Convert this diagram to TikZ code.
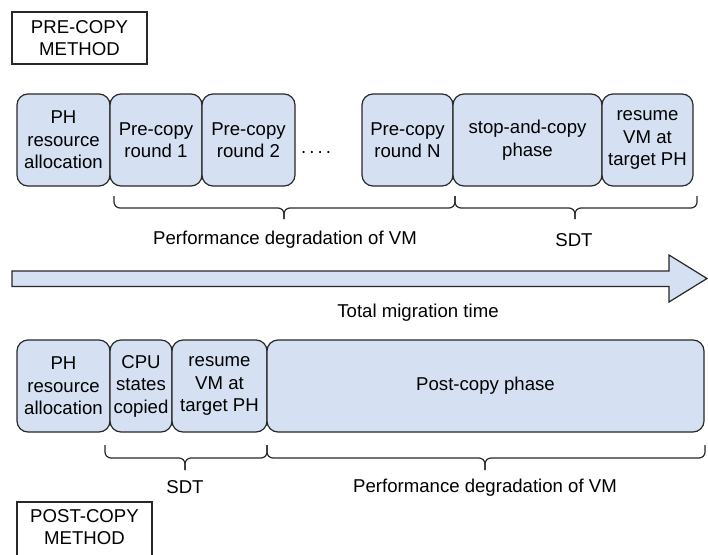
\documentclass[tikz,border=0pt]{standalone}
\usepackage{fontspec}
\setmainfont{Liberation Sans}
\definecolor{boxfill}{RGB}{213,225,243}
\definecolor{edge}{RGB}{40,40,40}
\tikzset{
  phase/.style={draw=edge, fill=boxfill, line width=1.2pt, rounded corners=11pt,
    align=center, inner sep=0pt, minimum height=92pt},
  lbl/.style={align=center, inner sep=0pt},
  bracepath/.style={draw=edge, line width=1.2pt, rounded corners=6pt},
  titlebox/.style={draw=edge, line width=1.2pt}
}
\begin{document}
\begin{tikzpicture}[x=1pt,y=-1pt, font=\fontsize{18.6}{22.5}\selectfont]
\useasboundingbox (0,0) rectangle (708,554);
\clip (0,0) rectangle (708,554);
% title boxes
\node[titlebox, lbl, minimum width=135pt, minimum height=52pt] (pre) at (79.5,38) {PRE-COPY\\METHOD};
\draw[titlebox] (17,502) rectangle (152,575);
\node[lbl] (post) at (84.5,527) {POST-COPY\\METHOD};
% top row
\node[phase, minimum width=93pt] (a1) at (63.5,140) {PH\\resource\\allocation};
\node[phase, minimum width=92pt] (a2) at (156,140) {Pre-copy\\round 1};
\node[phase, minimum width=93pt] (a3) at (248.5,140) {Pre-copy\\round 2};
\node[lbl] (dots) at (316,153) {.\,.\,.\,.};
\node[phase, minimum width=91pt] (a4) at (407.5,140) {Pre-copy\\round N};
\node[phase, minimum width=149pt] (a5) at (527.5,140) {stop-and-copy\\phase};
\node[phase, minimum width=91pt] (a6) at (647.5,140) {resume\\VM at\\target PH};
% top braces
\coordinate (t1l) at (114,196);
\coordinate (t1m) at (284,208);
\coordinate (t1t) at (284,219);
\coordinate (t1r) at (455,196);
\coordinate (t2m) at (575,208);
\coordinate (t2t) at (575,219);
\coordinate (t2r) at (697,196);
\draw[bracepath] (t1l) |- (t1m) -- (t1t);
\draw[bracepath] (t1r) |- (t1m) -- (t1t);
\draw[bracepath] (t1r) |- (t2m) -- (t2t);
\draw[bracepath] (t2r) |- (t2m) -- (t2t);
\node[lbl] (perf1) at (285,240) {Performance degradation of VM};
\node[lbl] (sdt1) at (574,240) {SDT};
% big arrow
\draw[draw=edge, fill=boxfill, line width=1.2pt]
  (12,271) -- (669,271) -- (669,255) -- (707,278.5) -- (669,302) -- (669,286.5) -- (12,286.5) -- cycle;
\node[lbl] (total) at (418,313) {Total migration time};
% bottom row
\node[phase, minimum width=93pt] (b1) at (63.5,386) {PH\\resource\\allocation};
\node[phase, minimum width=62pt] (b2) at (141,386) {CPU\\states\\copied};
\node[phase, minimum width=95pt] (b3) at (219.5,386) {resume\\VM at\\target PH};
\node[phase, minimum width=437pt] (b4) at (485.5,386) {Post-copy phase};
% bottom braces
\coordinate (u1l) at (105,445);
\coordinate (u1m) at (185,458);
\coordinate (u1t) at (185,470);
\coordinate (u1r) at (267,445);
\coordinate (u2m) at (485,458);
\coordinate (u2t) at (485,470);
\coordinate (u2r) at (705,445);
\draw[bracepath] (u1l) |- (u1m) -- (u1t);
\draw[bracepath] (u1r) |- (u1m) -- (u1t);
\draw[bracepath] (u1r) |- (u2m) -- (u2t);
\draw[bracepath] (u2r) |- (u2m) -- (u2t);
\node[lbl] (sdt2) at (185,487) {SDT};
\node[lbl] (perf2) at (485,488) {Performance degradation of VM};
\end{tikzpicture}
\end{document}
